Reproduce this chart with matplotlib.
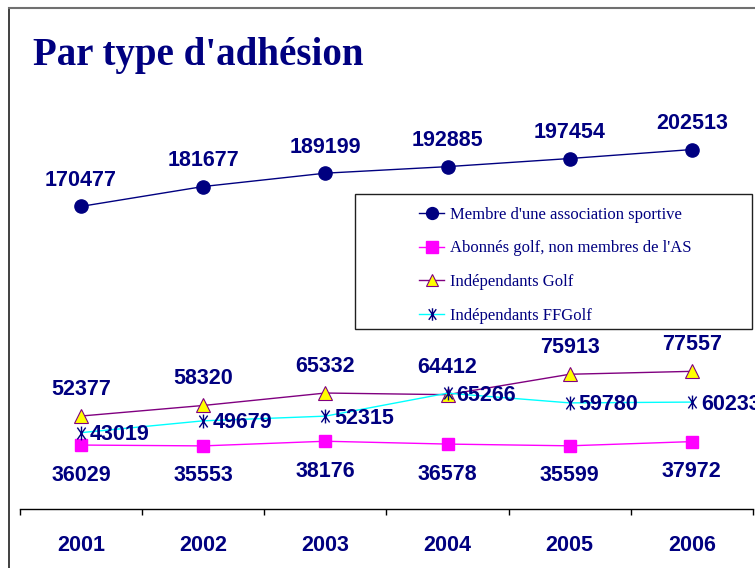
import matplotlib.pyplot as plt
from matplotlib.path import Path
from matplotlib.patches import Rectangle
from matplotlib.lines import Line2D
import numpy as np

years = ['2001', '2002', '2003', '2004', '2005', '2006']
membres_as = [170477, 181677, 189199, 192885, 197454, 202513]
abonnes = [36029, 35553, 38176, 36578, 35599, 37972]
indep_golf = [52377, 58320, 65332, 64412, 75913, 77557]
indep_ffgolf = [43019, 49679, 52315, 65266, 59780, 60233]

NAVY = '#000080'
W, H = 755, 568

# asterisk marker like the one Excel uses: vertical stroke plus a steep X
ast = Path([(0, -1), (0, 1), (-0.6, -0.85), (0.6, 0.85), (-0.6, 0.85), (0.6, -0.85)],
           [Path.MOVETO, Path.LINETO, Path.MOVETO, Path.LINETO, Path.MOVETO, Path.LINETO])

fig = plt.figure(figsize=(W / 100, H / 100), dpi=100)
ax = fig.add_axes([20 / W, (H - 509) / H, 733 / W, 497 / H])
x = np.arange(len(years))

l1, = ax.plot(x, membres_as, color=NAVY, lw=1, marker='o', ms=9.5, mfc=NAVY, mec=NAVY)
l2, = ax.plot(x, abonnes, color='#ff00ff', lw=1, marker='s', ms=9, mfc='#ff00ff', mec='#ff00ff')
l3, = ax.plot(x, indep_golf, color='#800080', lw=1, marker='^', ms=10, mfc='#ffff00', mec='#800080', mew=0.8)
l4, = ax.plot(x, indep_ffgolf, color='#00ffff', lw=1, marker=ast, ms=10, mfc='none', mec=NAVY, mew=1)

lab = dict(color=NAVY, fontsize=15.5, fontweight='bold', family='Liberation Sans',
           textcoords='offset pixels', annotation_clip=False)
for i in x:
    ax.annotate(str(membres_as[i]), (i, membres_as[i]), xytext=(0, 26), ha='center', va='center', **lab)
    ax.annotate(str(indep_golf[i]), (i, indep_golf[i]), xytext=(0, 27), ha='center', va='center', **lab)
    ax.annotate(str(abonnes[i]), (i, abonnes[i]), xytext=(0, -30), ha='center', va='center', **lab)
    ax.annotate(str(indep_ffgolf[i]), (i, indep_ffgolf[i]), xytext=(9, -2), ha='left', va='center', **lab)

ax.set_xlim(-0.5, len(years) - 0.5)
ax.set_ylim(0, 280000)
ax.set_facecolor('none')
for s in ['left', 'right', 'top']:
    ax.spines[s].set_visible(False)
ax.spines['bottom'].set_color('black')
ax.spines['bottom'].set_linewidth(1)
ax.set_yticks([])
ax.set_xticks(x)
ax.set_xticklabels(years, color=NAVY, fontsize=15.5, fontweight='bold', family='Liberation Sans')
ax.tick_params(axis='x', which='major', length=0, pad=19)
ax.set_xticks(np.arange(-0.5, len(years)), minor=True)
ax.tick_params(axis='x', which='minor', length=4.5, width=1, direction='out', color='black')

# title
fig.text(33 / W, 1 - 65 / H, "Par type d'adhésion", family='Liberation Serif', fontweight='bold',
         fontsize=28, color=NAVY, ha='left', va='baseline')

# outer frame (left and top edges)
fig.add_artist(Line2D([9 / W, 9 / W], [0, 1 - 8 / H], color='#202020', lw=1.2, transform=fig.transFigure))
fig.add_artist(Line2D([9 / W, 1], [1 - 8 / H, 1 - 8 / H], color='#707070', lw=1.5, transform=fig.transFigure))

# legend box
fig.add_artist(Rectangle((355 / W, 1 - 329 / H), 397 / W, 135 / H, transform=fig.transFigure,
                         facecolor='white', edgecolor='#202020', lw=1, zorder=3))
leg = fig.legend([l1, l2, l3, l4],
                 ["Membre d'une association sportive", "Abonnés golf, non membres de l'AS",
                  "Indépendants Golf", "Indépendants FFGolf"],
                 loc='upper left', bbox_to_anchor=(419 / W, 1 - 207 / H), frameon=False,
                 prop={'family': 'Liberation Serif', 'size': 12}, labelcolor=NAVY,
                 handlelength=1.5, handletextpad=0.35, labelspacing=1.05, borderpad=0,
                 borderaxespad=0, markerscale=0.9)
leg.set_zorder(4)

fig.savefig('out.png', dpi=100)
